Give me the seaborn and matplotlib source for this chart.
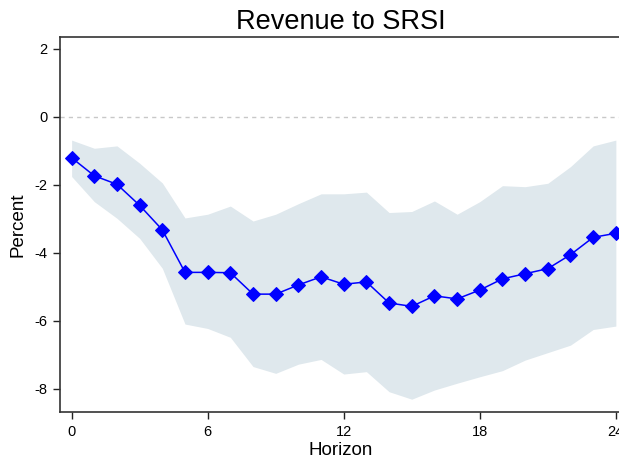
import matplotlib
matplotlib.use("Agg")
import matplotlib.pyplot as plt
import seaborn as sns
import pandas as pd

horizon = list(range(25))
irf = [-1.20, -1.73, -1.98, -2.60, -3.32, -4.57, -4.57, -4.58, -5.21, -5.21,
       -4.94, -4.70, -4.92, -4.85, -5.47, -5.57, -5.26, -5.35, -5.09, -4.76,
       -4.61, -4.46, -4.05, -3.54, -3.42]
upper = [-0.68, -0.92, -0.85, -1.36, -1.94, -2.97, -2.86, -2.62, -3.06, -2.86,
         -2.55, -2.26, -2.26, -2.21, -2.81, -2.78, -2.47, -2.86, -2.49, -2.02,
         -2.05, -1.95, -1.46, -0.85, -0.68]
lower = [-1.75, -2.49, -2.98, -3.57, -4.45, -6.09, -6.22, -6.48, -7.34, -7.54,
         -7.27, -7.13, -7.56, -7.49, -8.08, -8.30, -8.03, -7.83, -7.64, -7.46,
         -7.15, -6.93, -6.71, -6.25, -6.15]
xticks = [0, 6, 12, 18, 24]
yticks = [-8, -6, -4, -2, 0, 2]

sns.set_style("white")
plt.rcParams['font.family'] = ['Liberation Sans', 'DejaVu Sans']
plt.rcParams['axes.unicode_minus'] = False
plt.rcParams['text.color'] = 'black'
plt.rcParams['axes.labelcolor'] = 'black'
plt.rcParams['xtick.color'] = 'black'
plt.rcParams['ytick.color'] = 'black'

df = pd.DataFrame({"Horizon": horizon, "Percent": irf})

fig = plt.figure(figsize=(6.19, 4.62), dpi=100)
ax = fig.add_axes([0.0974, 0.1076, 0.9074, 0.8117])

ax.fill_between(horizon, lower, upper, color="#dfe8ed", linewidth=0, zorder=1)
ax.axhline(0, color="#c8c8c8", linestyle=(0, (3, 3)), linewidth=1.0, zorder=2)
sns.lineplot(data=df, x="Horizon", y="Percent", ax=ax, color="#0000ff",
             marker="D", markersize=7, markeredgecolor="#0000ff",
             linewidth=1.1, zorder=3)

ax.set_xlim(-0.5, 24.27)
ax.set_ylim(-8.685, 2.344)
ax.set_xticks(xticks)
ax.set_yticks(yticks)
ax.set_xticklabels([str(t) for t in xticks], fontsize=10.5, color='black')
ax.set_yticklabels([str(t) for t in yticks], fontsize=10.5, color='black')
ax.tick_params(axis='both', direction='out', length=5, width=1, color='#222222',
               bottom=True, left=True, pad=4)
ax.set_xlabel("Horizon", fontsize=13.5, labelpad=2, color='black')
ax.set_ylabel("Percent", fontsize=13.5, labelpad=6, color='black')
ax.set_title("Revenue to SRSI", fontsize=19.5, pad=6, color='black')

for s in ["left", "bottom", "top"]:
    ax.spines[s].set_color("#333333")
    ax.spines[s].set_linewidth(1.2)
ax.spines["right"].set_visible(False)

fig.savefig("out.png", dpi=100)
